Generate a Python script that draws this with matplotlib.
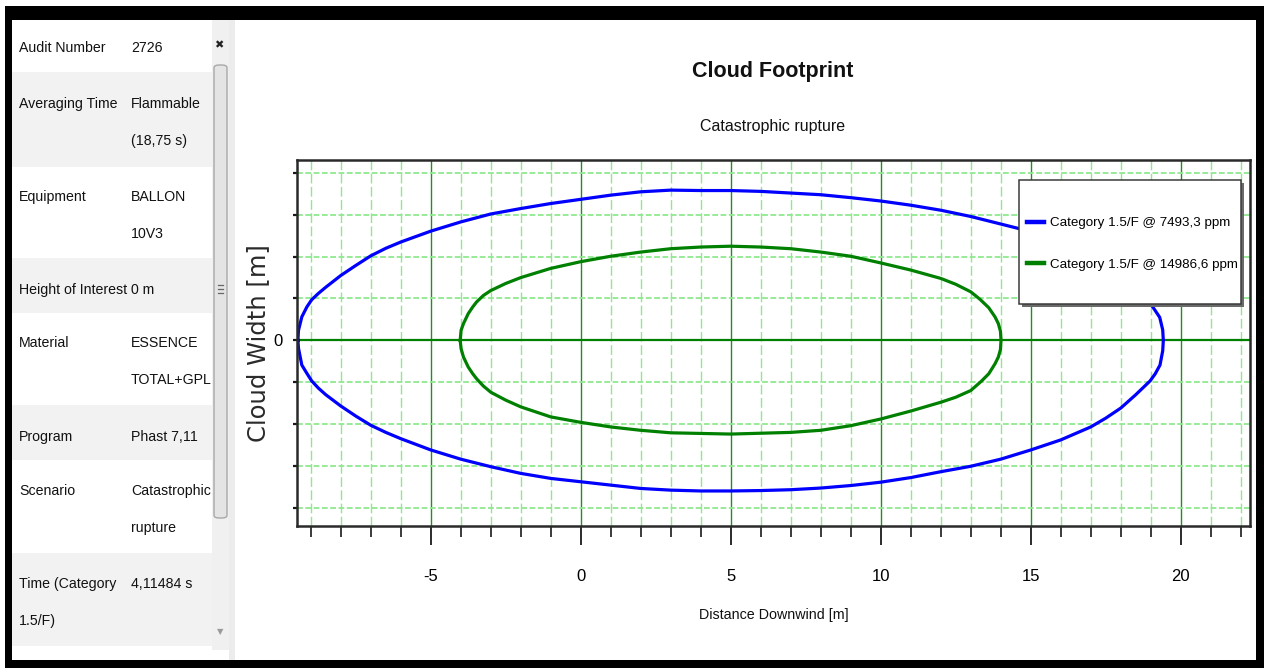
import matplotlib
matplotlib.use("Agg")
import matplotlib.pyplot as plt
from matplotlib.patches import Rectangle, FancyBboxPatch

# ---------------------------------------------------------------------------
# Footprint contours: downwind distance [m] and cloud width, traced around
# each contour (upper half left to right, then lower half right to left)
# ---------------------------------------------------------------------------
lfl_x = [-9.43, -9.41, -9.30, -9.13, -8.97, -8.75, -8.5, -8.0, -7.5, -7.0, -6.5,
         -6.0, -5.0, -4.0, -3.0, -2.0, -1.0, 0.0, 1.0, 2.0, 3.0, 4.0, 5.0, 6.0,
         7.0, 8.0, 9.0, 10.0, 11.0, 12.0, 13.0, 14.0, 15.0, 16.0, 17.0, 18.0,
         18.6, 19.03, 19.3, 19.40, 19.42,
         19.40, 19.31, 19.15, 18.98, 18.5, 18.0, 17.5, 17.0, 16.0, 15.0, 14.0,
         13.0, 12.0, 11.0, 10.0, 9.0, 8.0, 7.0, 6.0, 5.0, 4.0, 3.0, 2.0, 1.0,
         0.0, -1.0, -2.0, -3.0, -4.0, -5.0, -6.0, -6.5, -7.0, -7.5, -8.0, -8.5,
         -8.75, -8.97, -9.13, -9.30, -9.41, -9.43]
lfl_y = [0.0, 0.24, 0.56, 0.80, 0.97, 1.12, 1.27, 1.55, 1.79, 2.02, 2.20,
         2.35, 2.61, 2.83, 3.02, 3.15, 3.27, 3.37, 3.47, 3.55, 3.59, 3.58,
         3.58, 3.56, 3.52, 3.48, 3.41, 3.33, 3.23, 3.11, 2.96, 2.78, 2.60,
         2.38, 2.06, 1.60, 1.20, 0.84, 0.55, 0.25, 0.0,
         -0.25, -0.59, -0.80, -0.97, -1.30, -1.62, -1.86, -2.07, -2.38, -2.62,
         -2.84, -3.01, -3.14, -3.28, -3.39, -3.47, -3.53, -3.57, -3.59, -3.60,
         -3.60, -3.58, -3.54, -3.46, -3.38, -3.30, -3.18, -3.02, -2.84, -2.62,
         -2.35, -2.20, -2.03, -1.81, -1.57, -1.30, -1.14, -0.97, -0.79, -0.59,
         -0.19, 0.0]

half_lfl_x = [-4.02, -3.99, -3.91, -3.75, -3.6, -3.47, -3.25, -3.0, -2.5, -2.0,
              -1.0, 0.0, 1.0, 2.0, 3.0, 4.0, 5.0, 6.0, 7.0, 8.0, 9.0, 10.0,
              11.0, 12.0, 12.5, 13.0, 13.31, 13.6, 13.81, 13.92, 13.99, 14.01,
              13.99, 13.92, 13.81, 13.6, 13.35, 13.0, 12.5, 12.0, 11.0, 10.0,
              9.0, 8.0, 7.0, 5.0, 3.0, 2.0, 1.0, 0.0, -1.0, -2.0, -2.5, -3.0,
              -3.25, -3.47, -3.6, -3.75, -3.91, -3.99, -4.02]
half_lfl_y = [0.0, 0.24, 0.40, 0.64, 0.80, 0.92, 1.07, 1.19, 1.36, 1.50,
              1.72, 1.88, 2.01, 2.11, 2.19, 2.23, 2.25, 2.23, 2.19, 2.11,
              2.01, 1.85, 1.68, 1.48, 1.34, 1.16, 0.98, 0.78, 0.56, 0.40,
              0.22, 0.0,
              -0.22, -0.40, -0.56, -0.80, -0.98, -1.20, -1.36, -1.48, -1.69,
              -1.88, -2.04, -2.15, -2.20, -2.24, -2.21, -2.15, -2.07, -1.96,
              -1.83, -1.59, -1.43, -1.24, -1.09, -0.92, -0.80, -0.64, -0.40,
              -0.20, 0.0]

series_labels = ["Category 1.5/F @ 7493,3 ppm", "Category 1.5/F @ 14986,6 ppm"]
series_colors = ["#0000ff", "#008000"]

x_major = [-5, 0, 5, 10, 15, 20]
x_major_labels = ["-5", "0", "5", "10", "15", "20"]
x_minor = list(range(-9, 23))
y_ticks = [-4, -3, -2, -1, 0, 1, 2, 3, 4]
y_tick_labels = ["", "", "", "", "0", "", "", "", ""]

# Study properties listed in the side panel
prop_names = ["Audit Number", "Averaging Time", "Equipment", "Height of Interest",
              "Material", "Program", "Scenario", "Time (Category\n1.5/F)"]
prop_values = ["2726", "Flammable\n(18,75 s)", "BALLON\n10V3", "0 m",
               "ESSENCE\nTOTAL+GPL", "Phast 7,11", "Catastrophic\nrupture",
               "4,11484 s"]

# ---------------------------------------------------------------------------
W, H = 1264, 668
SANS = ["Liberation Sans", "DejaVu Sans"]


def fx(px):
    return px / W


def fy(py):
    return 1 - py / H


fig = plt.figure(figsize=(W / 100, H / 100), dpi=100)
fig.patch.set_facecolor("white")


def fig_rect(x0, y0, x1, y1, **kw):
    fig.add_artist(Rectangle((fx(x0), fy(y1)), fx(x1) - fx(x0), fy(y0) - fy(y1),
                             transform=fig.transFigure, **kw))


# window frame
fig_rect(5, 6, W, 20, fc="black", ec="none")
fig_rect(5, 6, 12, H, fc="black", ec="none")
fig_rect(5, 660, W, H, fc="black", ec="none")
fig_rect(1256, 6, W, H, fc="black", ec="none")

# side panel rows, one text per wrapped line
row_tops = [20, 72, 167, 258, 313, 405, 460, 553]
row_bottoms = [72, 167, 258, 313, 405, 460, 553, 646]
row_text_y = [47, 103, 196, 289, 342, 436, 490, 583]
LINE_STEP = 37
for i, (name, value) in enumerate(zip(prop_names, prop_values)):
    if i % 2 == 1:
        fig_rect(12, row_tops[i], 212, row_bottoms[i], fc="#f2f2f2", ec="none")
    for col_x, txt in ((19, name), (131, value)):
        for k, line in enumerate(txt.split("\n")):
            fig.text(fx(col_x), fy(row_text_y[i] + k * LINE_STEP + 5), line,
                     ha="left", va="baseline", fontsize=10.2, family=SANS,
                     color="#111111")

# scroll bar
fig_rect(212, 20, 229, 650, fc="#f0f0f0", ec="none")
fig.add_artist(FancyBboxPatch((fx(214), fy(518)), fx(227) - fx(214), fy(65) - fy(518),
                              boxstyle="round,pad=0,rounding_size=0.004",
                              transform=fig.transFigure, fc="#e4e4e4",
                              ec="#a8a8a8", lw=1.0))
for gy in (285, 289, 293):
    fig.add_artist(plt.Line2D([fx(217.5), fx(222.5)], [fy(gy), fy(gy)],
                              transform=fig.transFigure, color="#666666", lw=0.9))
fig.text(fx(219), fy(45), "\u2716", ha="center", va="center", fontsize=8,
         color="#222222", family=["DejaVu Sans"])
fig.text(fx(220), fy(632), "\u25bc", ha="center", va="center", fontsize=6,
         color="#9a9a9a", family=["DejaVu Sans"])
fig_rect(229, 20, 235, 660, fc="#ececec", ec="none")

# ---------------------------------------------------------------------------
AX_L, AX_R, AX_T, AX_B = 297, 1250, 160, 525.7
ax = fig.add_axes([fx(AX_L), fy(AX_B), fx(AX_R) - fx(AX_L), fy(AX_T) - fy(AX_B)])


def ax_x(px):
    return (px - AX_L) / (AX_R - AX_L)


def ax_y(py):
    return (AX_B - py) / (AX_B - AX_T)


ax.set_xlim(-9.46, 22.31)
ax.set_ylim(-4.43, 4.31)
ax.set_axisbelow(True)

ax.set_xticks(x_major)
ax.set_xticklabels(x_major_labels)
ax.set_xticks(x_minor, minor=True)
ax.set_yticks(y_ticks)
ax.set_yticklabels(y_tick_labels)

ax.tick_params(axis="x", which="major", direction="out", length=14, width=1.3,
               color="#1a1a1a", pad=17, labelsize=12)
ax.tick_params(axis="x", which="minor", direction="out", length=8, width=1.2,
               color="#1a1a1a")
ax.tick_params(axis="y", which="major", direction="out", length=3, width=1.6,
               color="#1a1a1a", pad=7, labelsize=12)
for lab in ax.get_xticklabels() + ax.get_yticklabels():
    lab.set_family(SANS)

ax.grid(which="minor", axis="x", color="#8fe88f", lw=1.0, ls=(0, (7, 2.5)))
ax.grid(which="major", axis="x", color="#1f8f1f", lw=1.0, ls="-")
ax.grid(which="major", axis="y", color="#8fe88f", lw=1.3, ls=(0, (3.2, 1.4)))
ax.axhline(0, color="#008000", lw=1.6, zorder=1.5)

for sp in ax.spines.values():
    sp.set_color("#2a2a2a")
    sp.set_linewidth(1.8)

l1, = ax.plot(lfl_x, lfl_y, color=series_colors[0], lw=2.3,
              solid_joinstyle="round", label=series_labels[0])
l2, = ax.plot(half_lfl_x, half_lfl_y, color=series_colors[1], lw=2.3,
              solid_joinstyle="round", label=series_labels[1])

# legend box
bx0, bx1, by0, by1 = ax_x(1019), ax_x(1241), ax_y(304), ax_y(180)
ax.add_patch(Rectangle((bx0 + 2.5 / 953, by0 - 2.5 / 365.7), bx1 - bx0, by1 - by0,
                       transform=ax.transAxes, fc="#6a6a6a", ec="none", zorder=4))
ax.add_patch(Rectangle((bx0, by0), bx1 - bx0, by1 - by0, transform=ax.transAxes,
                       fc="white", ec="#3a3a3a", lw=1.1, zorder=4.2))
leg = ax.legend(handles=[l1, l2], loc="center left", frameon=False,
                bbox_to_anchor=(ax_x(1027), ax_y(244)), borderpad=0,
                borderaxespad=0, handlelength=1.3, handletextpad=0.45,
                labelspacing=2.2, prop={"family": SANS, "size": 9.6})
leg.set_zorder(5)
for h in leg.legend_handles:
    h.set_linewidth(3.2)

# titles and axis labels
fig.text(fx(773), fy(72), "Cloud Footprint", ha="center", va="center",
         fontsize=15.5, fontweight="bold", family=SANS, color="#111111")
fig.text(fx(773), fy(126), "Catastrophic rupture", ha="center", va="center",
         fontsize=11.5, family=SANS, color="#111111")
ax.set_xlabel("Distance Downwind [m]", fontsize=10.3, family=SANS, color="#111111")
ax.xaxis.set_label_coords(0.5, ax_y(615))
ax.xaxis.label.set_va("center")
ax.set_ylabel("Cloud Width [m]", fontsize=17.5, family=["DejaVu Sans"], color="#2a2a2a")
ax.yaxis.set_label_coords(ax_x(258), 0.5)
ax.yaxis.label.set_va("center")

fig.savefig("out.png", dpi=100, facecolor="white")
